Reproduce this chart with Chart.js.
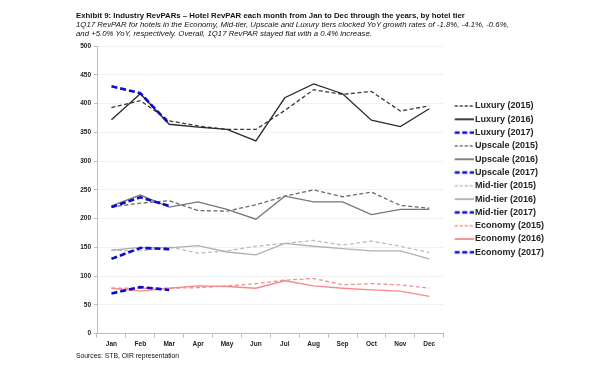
<!DOCTYPE html>
<html>
<head>
<meta charset="utf-8">
<script src="https://cdn.jsdelivr.net/npm/chart.js@4/dist/chart.umd.min.js"></script>
<style>
  html, body { margin: 0; padding: 0; background: #fff; }
  #wrap { position: relative; width: 600px; height: 365px; overflow: hidden; font-family: "Liberation Sans", Arial, sans-serif; color: #111; }
  #chartBox { position: absolute; left: 0; top: 0; width: 600px; height: 365px; }
  .txt { position: absolute; left: 76px; white-space: nowrap; line-height: 9px; }
  #title { top: 10.5px; font-size: 7.8px; font-weight: bold; }
  #sub1 { top: 20px; font-size: 7.8px; font-style: italic; }
  #sub2 { top: 28.5px; font-size: 7.8px; font-style: italic; }
  #source { top: 351px; font-size: 6.8px; }
</style>
</head>
<body>
<div id="wrap">
  <div id="chartBox"><canvas id="c"></canvas></div>
  <div class="txt" id="title">Exhibit 9: Industry RevPARs – Hotel RevPAR each month from Jan to Dec through the years, by hotel tier</div>
  <div class="txt" id="sub1">1Q17 RevPAR for hotels in the Economy, Mid-tier, Upscale and Luxury tiers clocked YoY growth rates of -1.8%, -4.1%, -0.6%,</div>
  <div class="txt" id="sub2">and +5.0% YoY, respectively. Overall, 1Q17 RevPAR stayed flat with a 0.4% increase.</div>
  <div class="txt" id="source">Sources: STB, OIR representation</div>
</div>
<script>
const months = ['Jan','Feb','Mar','Apr','May','Jun','Jul','Aug','Sep','Oct','Nov','Dec'];
const yTicks = [0,50,100,150,200,250,300,350,400,450,500];

const luxury2015  = [393,405,370,361,355,355,388,424,416,421,387,396];
const luxury2016  = [372,417,364,359,355,335,410,434,417,371,360,391];
const luxury2017  = [430,418,365];
const upscale2015 = [220,227,231,214,213,224,239,250,238,246,223,218];
const upscale2016 = [222,241,220,229,216,199,239,229,229,207,216,216];
const upscale2017 = [220,237,222];
const mid2015     = [145,144,151,140,144,152,157,162,154,161,152,141];
const mid2016     = [145,150,149,153,142,137,157,152,148,144,144,130];
const mid2017     = [130,149,147];
const econ2015    = [79,79,79,80,83,87,93,96,85,87,85,79];
const econ2016    = [79,74,79,83,82,79,92,83,79,76,74,65];
const econ2017    = [70,81,76];

const BLUE = '#0a0ad2';
const FONT = '"Liberation Sans", Arial, sans-serif';

// legend symbol: a short line sample drawn in the series' own style
function legendSymbol(color, width, dash, legendDash) {
  const cv = document.createElement('canvas');
  cv.width = 30; cv.height = 6;
  const ctx = cv.getContext('2d');
  ctx.strokeStyle = color;
  ctx.lineWidth = width;
  ctx.setLineDash(legendDash || dash || []);
  ctx.beginPath();
  ctx.moveTo(10.5, 3);
  ctx.lineTo(30, 3);
  ctx.stroke();
  return cv;
}

function d2015(label, data, color) {
  return { label, data, borderColor: color, backgroundColor: color, borderWidth: 1.3, borderDash: [4, 2.5],
    pointRadius: 0, tension: 0, order: 2, pointStyle: legendSymbol(color, 1.5, [3, 2]) };
}
function d2016(label, data, color) {
  return { label, data, borderColor: color, backgroundColor: color, borderWidth: 1.3,
    pointRadius: 0, tension: 0, order: 1, pointStyle: legendSymbol(color, 1.8, []) };
}
function d2017(label, data) {
  return { label, data, borderColor: BLUE, backgroundColor: BLUE, borderWidth: 2.6, borderDash: [6, 3],
    pointRadius: 0, tension: 0, order: 0, pointStyle: legendSymbol(BLUE, 2.6, [5, 2.5]) };
}

const datasets = [
  d2015('Luxury (2015)', luxury2015, '#3a3a3a'),
  d2016('Luxury (2016)', luxury2016, '#2a2a2a'),
  d2017('Luxury (2017)', luxury2017),
  d2015('Upscale (2015)', upscale2015, '#6a6a6a'),
  d2016('Upscale (2016)', upscale2016, '#767676'),
  d2017('Upscale (2017)', upscale2017),
  d2015('Mid-tier (2015)', mid2015, '#bdbdbd'),
  d2016('Mid-tier (2016)', mid2016, '#b0b0b0'),
  d2017('Mid-tier (2017)', mid2017),
  d2015('Economy (2015)', econ2015, '#f09090'),
  d2016('Economy (2016)', econ2016, '#f28a8a'),
  d2017('Economy (2017)', econ2017)
];

new Chart(document.getElementById('c'), {
  type: 'line',
  data: { labels: months, datasets },
  options: {
    responsive: true,
    maintainAspectRatio: false,
    animation: false,
    layout: { padding: { top: 46, right: 46, bottom: 11.3, left: 0 } },
    plugins: {
      tooltip: { enabled: false },
      legend: {
        position: 'right',
        align: 'start',
        title: { display: true, text: ' ', padding: { top: 39.2, bottom: 0 }, font: { size: 10 } },
        labels: {
          usePointStyle: true,
          pointStyleWidth: 22.5,
          boxWidth: 22.5,
          padding: 4.3,
          color: '#222',
          font: { family: FONT, size: 9, weight: 'bold' },
          sort: (a, b) => a.datasetIndex - b.datasetIndex
        }
      }
    },
    scales: {
      x: {
        offset: true,
        grid: { display: true, offset: true, drawOnChartArea: false, drawTicks: true, tickLength: 4, color: '#bdbdbd' },
        border: { color: '#bdbdbd', width: 1 },
        ticks: { color: '#222', padding: 3, maxRotation: 0, font: { family: FONT, size: 6.5, weight: 'bold' } },
        afterFit: (s) => { s.height = 20; }
      },
      y: {
        min: 0, max: 500,
        afterBuildTicks: (s) => { s.ticks = yTicks.map(v => ({ value: v })); },
        grid: { color: '#f0f0f0', drawTicks: true, tickLength: 3, tickColor: '#bdbdbd' },
        border: { color: '#bdbdbd', width: 1 },
        ticks: { color: '#222', padding: 3, font: { family: FONT, size: 6.5, weight: 'bold' } },
        afterFit: (s) => { s.width = 97; }
      }
    }
  }
});
</script>
</body>
</html>
